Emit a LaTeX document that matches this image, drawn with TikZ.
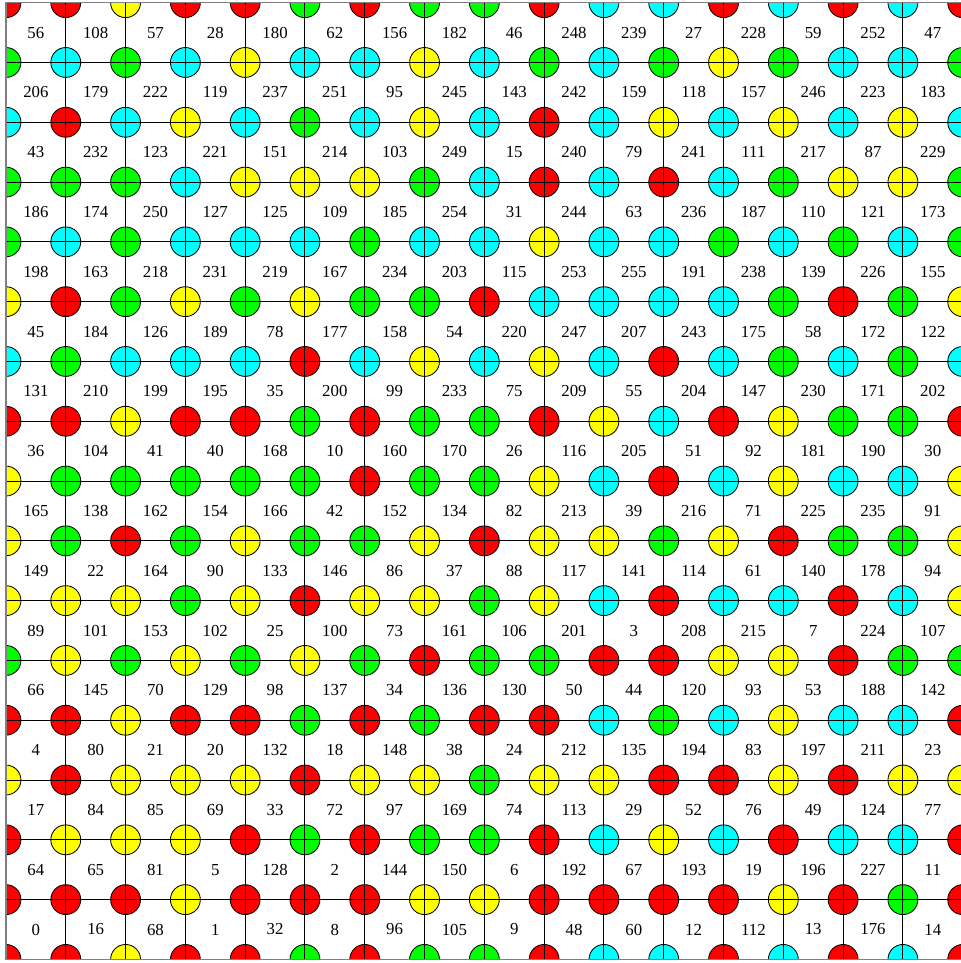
\documentclass[tikz,border=0pt]{standalone}
\usepackage{fontspec}
\setmainfont{Liberation Serif}
\usepackage{xcolor}

% corner colours of the torus
\definecolor{R}{RGB}{255,0,0}
\definecolor{Y}{RGB}{255,255,0}
\definecolor{G}{RGB}{0,255,0}
\definecolor{C}{RGB}{0,255,255}

\begin{document}
\begin{tikzpicture}[
  x=1cm, y=1cm,
  spot/.style={draw=black, line width=0.4pt},
  gridline/.style={black, line width=0.5pt},
  frame/.style={gray, line width=0.7pt},
  cellnum/.style={inner sep=0pt, font=\fontsize{8}{9}\selectfont},
]
\useasboundingbox (-0.1,-0.06) rectangle (15.97,16.045);
\fill[white] (-0.1,-0.06) rectangle (15.97,16.045);

\begin{scope}
\clip (0,0) rectangle (16,16);
% coloured spots, row 0 is the top line; the pattern wraps round
\foreach \row [count=\r from 0] in {
  {R,R,Y,R,R,G,R,G,G,R,C,C,R,C,R,C},
  {G,C,G,C,Y,C,C,Y,C,G,C,G,Y,G,C,C},
  {C,R,C,Y,C,G,C,Y,C,R,C,Y,C,Y,C,Y},
  {G,G,G,C,Y,Y,Y,G,C,R,C,R,C,G,Y,Y},
  {G,C,G,C,C,C,G,C,C,Y,C,C,G,C,G,C},
  {Y,R,G,Y,G,Y,G,G,R,C,C,C,C,G,R,G},
  {C,G,C,C,C,R,C,Y,C,Y,C,R,C,G,C,G},
  {R,R,Y,R,R,G,R,G,G,R,Y,C,R,Y,G,G},
  {Y,G,G,G,G,G,R,G,G,Y,C,R,C,Y,C,C},
  {Y,G,R,G,Y,G,G,Y,R,Y,Y,G,Y,R,G,G},
  {Y,Y,Y,G,Y,R,Y,Y,G,Y,C,R,C,C,R,C},
  {G,Y,G,Y,G,Y,G,R,G,G,R,R,Y,Y,R,G},
  {R,R,Y,R,R,G,R,G,R,R,C,G,C,Y,C,C},
  {Y,R,Y,Y,Y,R,Y,Y,G,Y,Y,R,R,Y,R,Y},
  {R,Y,Y,Y,R,G,R,G,G,R,C,Y,C,R,C,C},
  {R,R,R,Y,R,R,R,Y,Y,R,R,R,R,Y,R,G}}
{
  \foreach \col [count=\c from 0] in \row {
    \foreach \dx/\dy in {0/0, 16/0, 0/-16, 16/-16}
      \draw[spot, fill=\col] (\c+\dx,16-\r+\dy) circle (0.25);
  }
}
% grid lines
\foreach \k in {0,...,16} {
  \draw[gridline] (\k,-0.5) -- (\k,16.5);
  \draw[gridline] (-0.5,\k) -- (16.5,\k);
}
\end{scope}

% cell numbers
\foreach \row [count=\i from 0] in {
  {56,108,57,28,180,62,156,182,46,248,239,27,228,59,252,47},
  {206,179,222,119,237,251,95,245,143,242,159,118,157,246,223,183},
  {43,232,123,221,151,214,103,249,15,240,79,241,111,217,87,229},
  {186,174,250,127,125,109,185,254,31,244,63,236,187,110,121,173},
  {198,163,218,231,219,167,234,203,115,253,255,191,238,139,226,155},
  {45,184,126,189,78,177,158,54,220,247,207,243,175,58,172,122},
  {131,210,199,195,35,200,99,233,75,209,55,204,147,230,171,202},
  {36,104,41,40,168,10,160,170,26,116,205,51,92,181,190,30},
  {165,138,162,154,166,42,152,134,82,213,39,216,71,225,235,91},
  {149,22,164,90,133,146,86,37,88,117,141,114,61,140,178,94},
  {89,101,153,102,25,100,73,161,106,201,3,208,215,7,224,107},
  {66,145,70,129,98,137,34,136,130,50,44,120,93,53,188,142},
  {4,80,21,20,132,18,148,38,24,212,135,194,83,197,211,23},
  {17,84,85,69,33,72,97,169,74,113,29,52,76,49,124,77},
  {64,65,81,5,128,2,144,150,6,192,67,193,19,196,227,11},
  {0,16,68,1,32,8,96,105,9,48,60,12,112,13,176,14}}
{
  \foreach \n [count=\j from 0] in \row
    \node[cellnum] (cell-\i-\j) at (\j+0.5,15.5-\i) {\n};
}

\draw[frame] (0,0) rectangle (16,16);
\end{tikzpicture}
\end{document}
